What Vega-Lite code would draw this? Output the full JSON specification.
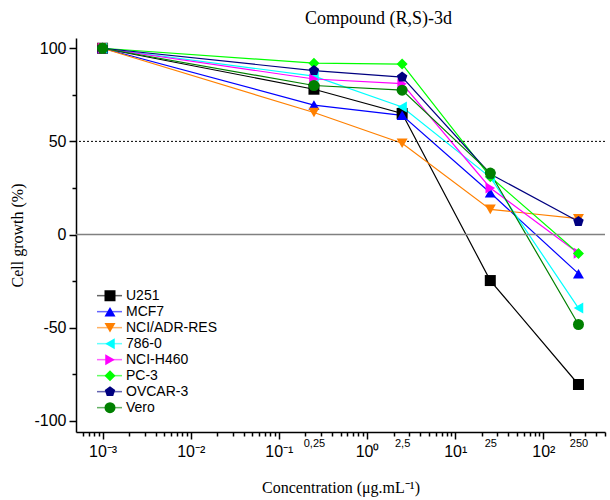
{
  "$schema": "https://vega.github.io/schema/vega-lite/v6.json",
  "width": 529,
  "height": 394,
  "autosize": {"type": "none"},
  "padding": {"left": 76, "top": 38, "right": 5, "bottom": 68},
  "config": {
    "view": {"stroke": null},
    "axis": {
      "domainColor": "black", "domainWidth": 1.5, "tickColor": "black", "tickWidth": 1.5,
      "labelColor": "black", "labelFont": "Liberation Sans", "titleFont": "Liberation Serif",
      "titleFontWeight": "normal", "titleFontSize": 16, "titleColor": "black", "grid": false
    },
    "legend": {"labelFontWeight": "normal"}
  },
  "title": {
    "text": "Compound (R,S)-3d", "font": "Liberation Serif", "fontSize": 18, "fontWeight": "normal",
    "color": "black", "anchor": "middle", "dx": 38, "offset": 10
  },
  "datasets": {
    "cells": [
      {"series": "U251", "conc": 0.001, "growth": 100},
      {"series": "U251", "conc": 0.25, "growth": 78},
      {"series": "U251", "conc": 2.5, "growth": 65},
      {"series": "U251", "conc": 25, "growth": -24.7},
      {"series": "U251", "conc": 250, "growth": -80.5},
      {"series": "MCF7", "conc": 0.001, "growth": 100},
      {"series": "MCF7", "conc": 0.25, "growth": 69.5},
      {"series": "MCF7", "conc": 2.5, "growth": 64},
      {"series": "MCF7", "conc": 25, "growth": 22.4},
      {"series": "MCF7", "conc": 250, "growth": -21},
      {"series": "NCI/ADR-RES", "conc": 0.001, "growth": 100},
      {"series": "NCI/ADR-RES", "conc": 0.25, "growth": 65.5},
      {"series": "NCI/ADR-RES", "conc": 2.5, "growth": 49},
      {"series": "NCI/ADR-RES", "conc": 25, "growth": 13.5},
      {"series": "NCI/ADR-RES", "conc": 250, "growth": 8.5},
      {"series": "786-0", "conc": 0.001, "growth": 100},
      {"series": "786-0", "conc": 0.25, "growth": 85},
      {"series": "786-0", "conc": 2.5, "growth": 68.5},
      {"series": "786-0", "conc": 25, "growth": 30.7},
      {"series": "786-0", "conc": 250, "growth": -39.5},
      {"series": "NCI-H460", "conc": 0.001, "growth": 100},
      {"series": "NCI-H460", "conc": 0.25, "growth": 83.5},
      {"series": "NCI-H460", "conc": 2.5, "growth": 81},
      {"series": "NCI-H460", "conc": 25, "growth": 25},
      {"series": "NCI-H460", "conc": 250, "growth": -10},
      {"series": "PC-3", "conc": 0.001, "growth": 100},
      {"series": "PC-3", "conc": 0.25, "growth": 92},
      {"series": "PC-3", "conc": 2.5, "growth": 91.5},
      {"series": "PC-3", "conc": 25, "growth": 31},
      {"series": "PC-3", "conc": 250, "growth": -10.2},
      {"series": "OVCAR-3", "conc": 0.001, "growth": 100},
      {"series": "OVCAR-3", "conc": 0.25, "growth": 88},
      {"series": "OVCAR-3", "conc": 2.5, "growth": 84.5},
      {"series": "OVCAR-3", "conc": 25, "growth": 32.5},
      {"series": "OVCAR-3", "conc": 250, "growth": 7},
      {"series": "Vero", "conc": 0.001, "growth": 100},
      {"series": "Vero", "conc": 0.25, "growth": 80},
      {"series": "Vero", "conc": 2.5, "growth": 77.5},
      {"series": "Vero", "conc": 25, "growth": 33},
      {"series": "Vero", "conc": 250, "growth": -48.3}
    ]
  },
  "layer": [
    {
      "data": {"name": "cells"},
      "mark": {"type": "line", "strokeWidth": 1.2},
      "encoding": {
        "x": {
          "field": "conc", "type": "quantitative",
          "scale": {"type": "log", "domain": [0.0005, 500], "nice": false},
          "axis": {
            "title": "Concentration (μg.mL⁻¹)", "titlePadding": 20,
            "values": [0.0006, 0.0007, 0.0008, 0.0009, 0.001, 0.002, 0.003, 0.004, 0.005, 0.006, 0.007, 0.008, 0.009, 0.01, 0.02, 0.03, 0.04, 0.05, 0.06, 0.07, 0.08, 0.09, 0.1, 0.2, 0.25, 0.3, 0.4, 0.5, 0.6, 0.7, 0.8, 0.9, 1, 2, 2.5, 3, 4, 5, 6, 7, 8, 9, 10, 20, 25, 30, 40, 50, 60, 70, 80, 90, 100, 200, 250, 300, 400, 500],
            "labelExpr": "datum.value==0.001?'10⁻³':datum.value==0.01?'10⁻²':datum.value==0.1?'10⁻¹':datum.value==1?'10⁰':datum.value==10?'10¹':datum.value==100?'10²':datum.value==0.25?'0,25':datum.value==2.5?'2,5':datum.value==25?'25':datum.value==250?'250':''",
            "labelOverlap": false, "labelBound": false, "labelFlush": false,
            "labelFontSize": {"condition": {"test": "indexof([0.25,2.5,25,250], datum.value) >= 0", "value": 11}, "value": 16},
            "labelPadding": {"condition": {"test": "indexof([0.25,2.5,25,250], datum.value) >= 0", "value": 1}, "value": 4},
            "tickSize": {"condition": {"test": "indexof([0.001,0.01,0.1,1,10,100], datum.value) >= 0", "value": 7}, "value": 4},
            "tickOpacity": {"condition": {"test": "indexof([0.25,2.5,25,250], datum.value) >= 0", "value": 0}, "value": 1}
          }
        },
        "y": {
          "field": "growth", "type": "quantitative",
          "scale": {"domain": [-106, 105.5], "nice": false, "zero": false},
          "axis": {
            "title": "Cell growth (%)", "titlePadding": 8,
            "values": [-100, -75, -50, -25, 0, 25, 50, 75, 100],
            "labelExpr": "datum.value % 50 == 0 ? '' + datum.value : ''",
            "labelFontSize": 16, "labelPadding": 3,
            "tickSize": {"condition": {"test": "datum.value % 50 == 0", "value": 7}, "value": 4}
          }
        },
        "stroke": {
          "field": "series", "type": "nominal",
          "scale": {
            "domain": ["U251", "MCF7", "NCI/ADR-RES", "786-0", "NCI-H460", "PC-3", "OVCAR-3", "Vero", " "],
            "range": ["#000000", "#0000FF", "#FF8000", "#00FFFF", "#FF00FF", "#00FF00", "#000080", "#008000", "transparent"]
          },
          "legend": {
            "orient": "none", "legendX": 20, "legendY": 250, "title": null, "padding": 0,
            "symbolType": "stroke", "symbolSize": 625, "symbolStrokeWidth": 1.5, "symbolOpacity": 0.6,
            "labelExpr": "''", "labelOpacity": 0, "labelFontSize": 14, "labelFont": "Liberation Sans",
            "clipHeight": 15.3, "rowPadding": 0
          }
        }
      }
    },
    {
      "data": {"values": [{"growth": 50}]},
      "mark": {"type": "rule", "strokeDash": [2, 2], "color": "black", "strokeWidth": 1},
      "encoding": {"y": {"field": "growth", "type": "quantitative", "title": "Cell growth (%)"}}
    },
    {
      "data": {"values": [{"growth": 0}]},
      "mark": {"type": "rule", "color": "#808080", "strokeWidth": 1.5},
      "encoding": {"y": {"field": "growth", "type": "quantitative", "title": "Cell growth (%)"}}
    },
    {
      "data": {"name": "cells"},
      "mark": {"type": "point", "filled": true, "opacity": 1, "size": 121},
      "encoding": {
        "x": {"field": "conc", "type": "quantitative", "title": "Concentration (μg.mL⁻¹)"},
        "y": {"field": "growth", "type": "quantitative", "title": "Cell growth (%)"},
        "color": {
          "field": "series", "type": "nominal",
          "scale": {
            "domain": ["U251", "MCF7", "NCI/ADR-RES", "786-0", "NCI-H460", "PC-3", "OVCAR-3", "Vero"],
            "range": ["#000000", "#0000FF", "#FF8000", "#00FFFF", "#FF00FF", "#00FF00", "#000080", "#008000"]
          },
          "legend": {
            "orient": "none", "legendX": 27, "legendY": 250, "title": null, "padding": 0,
            "labelFontSize": 14, "labelFont": "Liberation Sans", "labelColor": "black", "labelFontWeight": "normal", "labelOffset": 9,
            "clipHeight": 15.3, "rowPadding": 0, "symbolSize": 121, "symbolOpacity": 1
          }
        },
        "shape": {
          "field": "series", "type": "nominal",
          "scale": {
            "domain": ["U251", "MCF7", "NCI/ADR-RES", "786-0", "NCI-H460", "PC-3", "OVCAR-3", "Vero"],
            "range": ["square", "triangle-up", "triangle-down", "triangle-left", "triangle-right", "diamond", "M0,-1L0.951,-0.309L0.588,0.809L-0.588,0.809L-0.951,-0.309Z", "circle"]
          },
          "legend": {
            "orient": "none", "legendX": 27, "legendY": 250, "title": null, "padding": 0,
            "labelFontSize": 14, "labelFont": "Liberation Sans", "labelColor": "black", "labelFontWeight": "normal", "labelOffset": 9,
            "clipHeight": 15.3, "rowPadding": 0, "symbolSize": 121, "symbolOpacity": 1
          }
        }
      }
    }
  ]
}
